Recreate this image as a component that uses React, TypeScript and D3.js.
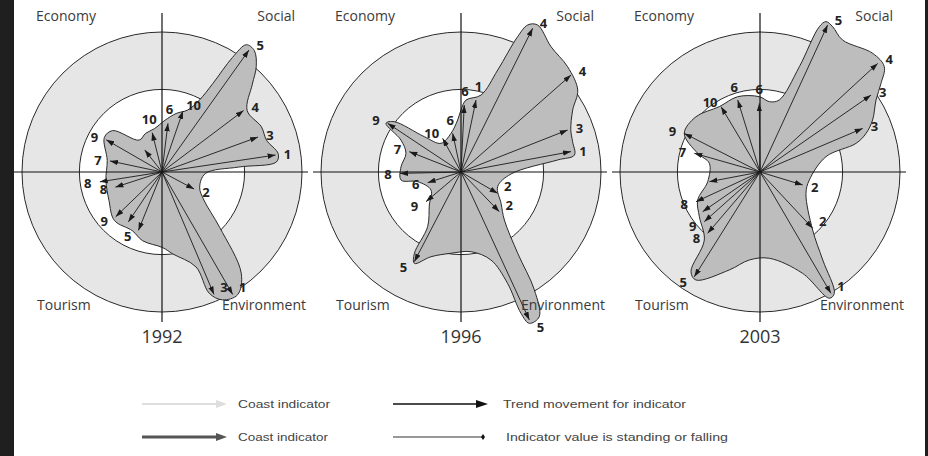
import React from "react";
import * as d3 from "d3";

const years = ["1992", "1996", "2003"];
const cornerLabels = ["Economy", "Social", "Tourism", "Environment"];

// [bearing in degrees clockwise from north, value (outer circle = 100), label]
const arrows1992: [number, number, string][] = [
  [81.5, 82, "1"], [70, 73, "3"], [53, 73, "4"], [35.5, 107, "5"], [19, 46, "10"],
  [7, 35, "6"], [346, 29, "10"], [322, 20, ""], [300, 46, "9"], [282, 38, "7"],
  [261, 45, "8"], [252, 35, "8"], [226, 46, "9"], [214, 43, ""], [202, 45, "5"],
  [157, 95, "3"], [150, 101, "1"], [118, 26, "2"],
];
const arrows1996: [number, number, string][] = [
  [26.5, 114.7, "4"], [48.6, 104.8, "4"], [68.5, 81.9, "3"], [79.5, 79.9, "1"], [120.2, 30.3, "2"],
  [136, 39.4, "2"], [155.2, 116.4, "5"], [207.5, 72.2, "5"], [229.7, 32.8, "9"], [252.3, 25, "6"],
  [268.7, 43.6, "8"], [291.5, 39.7, "7"], [303.6, 62.9, "9"], [331.4, 27.4, "10"], [347.8, 28.3, "6"],
  [2.8, 47.9, "6"], [11.8, 52.5, "1"],
];
const arrows2003: [number, number, string][] = [
  [24.7, 115.6, "5"], [47.3, 114.4, "4"], [55.3, 96.5, "3"], [67, 79.7, "3"], [106.9, 31.9, "2"],
  [136.9, 55, "2"], [149.7, 100.4, "1"], [212.1, 88.3, "5"], [220.5, 57.6, "8"], [228.3, 53.3, "9"],
  [235.3, 49.8, ""], [245.1, 50.4, "8"], [259.2, 36.8, ""], [285.9, 48.8, "7"], [297, 60.7, "9"],
  [329.2, 54.3, "10"], [342.8, 53.8, "6"], [359.4, 49, "6"],
];

// outline of the grey shape: [bearing, value]
const outline1992: [number, number][] = [
  [3.3, 37], [13.6, 43], [22.6, 48], [27.5, 58], [29.9, 73], [31.6, 96], [33.5, 109], [37.2, 109],
  [41.8, 101], [45.8, 90], [54.2, 75], [65.6, 78], [73, 78], [81, 84], [85, 82], [86.3, 55],
  [92, 31], [112, 29], [123.8, 36], [133.8, 57], [142, 92], [148.4, 103], [154.7, 101], [158.7, 93],
  [160.3, 72], [172.5, 59], [179.5, 54], [195.8, 51], [206.7, 47], [224.6, 48.5], [241.7, 43],
  [261.6, 40.5], [282, 40], [301, 48], [310, 46], [324.4, 28], [337, 30], [350, 31.4],
];
const outline1996: [number, number][] = [
  [0, 44.3], [4, 51.5], [14.6, 56.8], [19.8, 77.4], [22.7, 104.8], [24.4, 115.3], [27.5, 118.4],
  [35.7, 110.2], [45.4, 107], [54.9, 101.9], [61, 91.2], [69, 84], [74.8, 82.6], [81.5, 81.9],
  [82.9, 69.6], [92.3, 35.7], [111.8, 28.2], [128, 36.3], [137.9, 46.2], [145.1, 70.8], [148.1, 99.2],
  [151.6, 117.5], [155.7, 118.6], [157, 109.7], [157.3, 86.2], [161.2, 66.4], [172.8, 57.4],
  [187, 58.5], [199.5, 64.2], [207, 73.3], [209.8, 67], [211.4, 45.7], [223.8, 32.7], [239, 25],
  [257.4, 31.7], [262.4, 43.2], [275, 43], [288.7, 41.5], [298, 48.6], [303, 63.9], [307, 59.7],
  [313.9, 36.4], [325, 25], [345.5, 28.5], [356.3, 37.2],
];
const outline2003: [number, number][] = [
  [359.5, 53.8], [7.6, 50.7], [15, 53.3], [20.5, 80.3], [22.2, 112.1], [23.7, 117.3], [26.6, 116],
  [32, 111.2], [43.5, 116.9], [49.7, 116.4], [53.8, 107.1], [58.2, 97.5], [65.2, 88.6], [70, 80.6],
  [73.4, 71.6], [76.9, 48.4], [99.2, 35.7], [114.9, 36.2], [137.8, 56], [144.5, 77.2], [148.5, 101.6],
  [151.2, 102.9], [157.2, 78.5], [173.8, 62], [186.9, 63.3], [197.4, 73.3], [210.7, 89.7],
  [214.7, 86.6], [219.3, 62.8], [233.6, 53.8], [245.8, 48.8], [259.5, 38], [279.7, 36.7],
  [286.7, 46.5], [297, 60.7], [310.8, 60.4], [328.1, 55], [343.5, 56.1],
];

const panelArrows = [arrows1992, arrows1996, arrows2003];
const panelOutlines = [outline1992, outline1996, outline2003];

const legendLabels = [
  "Coast indicator",
  "Coast indicator",
  "Trend movement for indicator",
  "Indicator value is standing or falling",
];

const INNER = 59;
const OUTER = 100;

export default function App() {
  const W = 928;
  const H = 456;
  const cy = 172;
  const r = d3.scaleLinear().domain([0, 100]).range([0, 140]);
  const cx = d3.scalePoint<string>().domain(years).range([162, 760]);
  const rad = (d: number) => (d * Math.PI) / 180;
  const pt = (b: number, v: number): [number, number] => [
    r(v) * Math.sin(rad(b)),
    -r(v) * Math.cos(rad(b)),
  ];
  const shape = d3
    .lineRadial<[number, number]>()
    .angle((d) => rad(d[0]))
    .radius((d) => r(d[1]))
    .curve(d3.curveCatmullRomClosed.alpha(0.5));

  const labelPos = (b: number, v: number): [number, number] => {
    const [x, y] = pt(b, v);
    const s = Math.sin(rad(b));
    const c = Math.cos(rad(b));
    if (Math.abs(s) < 0.3) return [x + s * 12, y - c * 14];
    if (s > 0 && c < -0.5 && y > 140) return [x + 11, y + 7];
    if (s > 0 && c < -0.5) return [x + 10, y - 7];
    return [x + Math.sign(s) * 10 + s * 2, y - c * 6];
  };

  const sans = "'Open Sans', 'Liberation Sans', sans-serif";
  const narrow = "'Liberation Sans Narrow', 'Liberation Sans', sans-serif";

  return (
    <svg
      width={W}
      height={H}
      style={{ position: "absolute", left: 0, top: 0 }}
      fontFamily={sans}
    >
      <defs>
        <marker
          id="ah"
          markerUnits="userSpaceOnUse"
          viewBox="0 -3 8 6"
          refX={8}
          refY={0}
          markerWidth={8}
          markerHeight={6}
          orient="auto"
        >
          <path d="M0,-2.7L8,0L0,2.7Z" fill="#1a1a1a" />
        </marker>
      </defs>
      <rect x={0} y={0} width={W} height={H} fill="#1f1f1f" />
      <rect x={14} y={0} width={911} height={H} fill="#ffffff" />

      {years.map((yr, i) => {
        const x0 = cx(yr) as number;
        return (
          <g key={yr} transform={`translate(${x0},${cy})`}>
            <circle r={r(OUTER)} fill="#e6e6e6" stroke="#2a2a2a" strokeWidth={1} />
            <circle r={r(INNER)} fill="#ffffff" stroke="#2a2a2a" strokeWidth={1} />
            <path
              d={shape(panelOutlines[i]) || ""}
              fill="#bdbdbd"
              stroke="#2a2a2a"
              strokeWidth={1}
            />
            <line x1={-148} x2={146} y1={0} y2={0} stroke="#111" strokeWidth={1.2} />
            <line x1={0} x2={0} y1={-159} y2={150} stroke="#111" strokeWidth={1.2} />
            {panelArrows[i].map(([b, v], j) => {
              const [x, y] = pt(b, v);
              return (
                <line
                  key={j}
                  x1={0}
                  y1={0}
                  x2={x}
                  y2={y}
                  stroke="#1a1a1a"
                  strokeWidth={0.9}
                  markerEnd="url(#ah)"
                />
              );
            })}
            {panelArrows[i].map(([b, v, lab], j) => {
              const [x, y] = labelPos(b, v);
              return (
                <text
                  key={j}
                  x={x}
                  y={y}
                  textAnchor="middle"
                  dominantBaseline="central"
                  fontSize={13}
                  fontWeight={700}
                  fill="#222"
                >
                  {lab}
                </text>
              );
            })}
            <g transform={`translate(0,${-cy})`} fontSize={14} fill="#3a3a3a">
              <text x={-126} y={21}>{cornerLabels[0]}</text>
              <text x={133} y={21} textAnchor="end">{cornerLabels[1]}</text>
              <text x={-125} y={310}>{cornerLabels[2]}</text>
              <text x={144} y={310} textAnchor="end">{cornerLabels[3]}</text>
              <text x={0} y={343} fontSize={18} fill="#333" textAnchor="middle">{yr}</text>
            </g>
          </g>
        );
      })}

      {/* legend */}
      <g fontFamily={narrow} fontSize={11} fill="#444">
        <line x1={142} x2={218} y1={404} y2={404} stroke="#dedede" strokeWidth={2} />
        <path d="M216,400L227,404L216,408Z" fill="#dedede" />
        <text x={238} y={408} textLength={92} lengthAdjust="spacingAndGlyphs">{legendLabels[0]}</text>

        <line x1={142} x2={218} y1={437} y2={437} stroke="#555" strokeWidth={3} />
        <path d="M216,433L227,437L216,441Z" fill="#555" />
        <text x={238} y={441} textLength={90} lengthAdjust="spacingAndGlyphs">{legendLabels[1]}</text>

        <line x1={393} x2={478} y1={404} y2={404} stroke="#111" strokeWidth={1.3} />
        <path d="M476,400L488,404L476,408Z" fill="#111" />
        <text x={503} y={408} textLength={183} lengthAdjust="spacingAndGlyphs">{legendLabels[2]}</text>

        <line x1={393} x2={483} y1={437} y2={437} stroke="#333" strokeWidth={1.2} />
        <path d="M483,434L485,437L483,440L481,437Z" fill="#111" />
        <text x={506} y={441} textLength={222} lengthAdjust="spacingAndGlyphs">{legendLabels[3]}</text>
      </g>
    </svg>
  );
}
